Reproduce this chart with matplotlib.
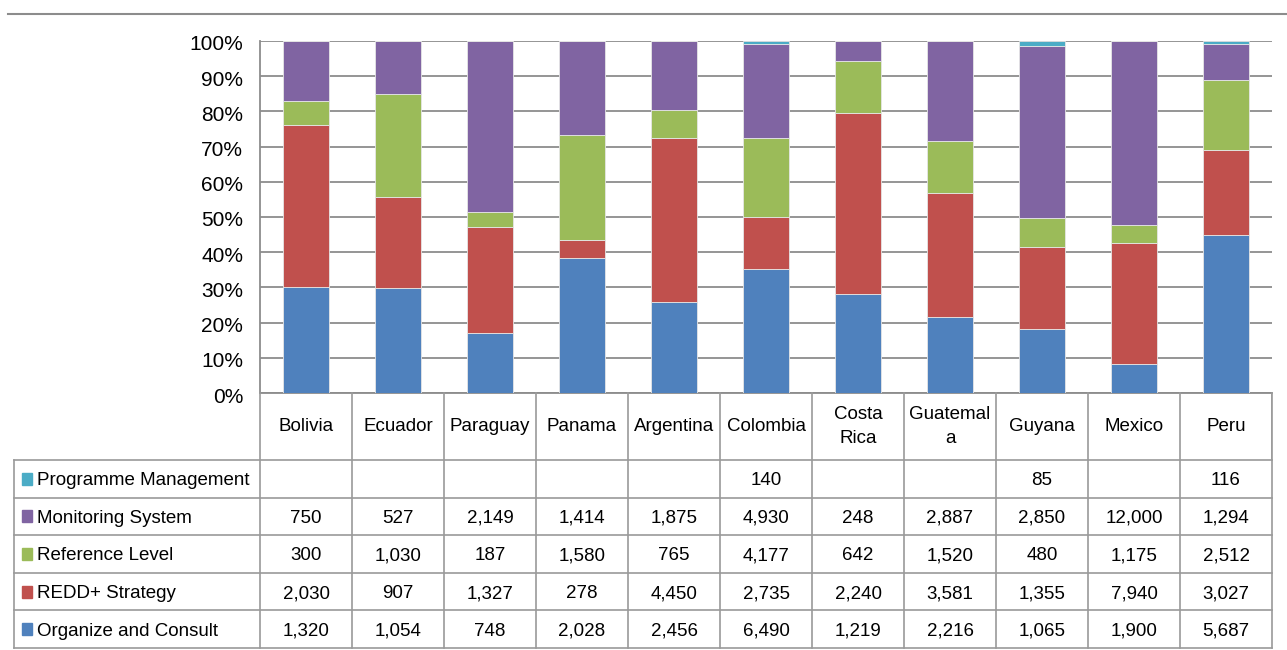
import numpy as np
import matplotlib.pyplot as plt
import matplotlib.transforms as mtransforms
from matplotlib.lines import Line2D
from matplotlib.patches import Rectangle

plt.rcParams['font.family'] = ['Liberation Sans', 'DejaVu Sans']

countries = ['Bolivia', 'Ecuador', 'Paraguay', 'Panama', 'Argentina', 'Colombia',
             'Costa\nRica', 'Guatemal\na', 'Guyana', 'Mexico', 'Peru']
series_names = ['Organize and Consult', 'REDD+ Strategy', 'Reference Level',
                'Monitoring System', 'Programme Management']
organize = [1320, 1054, 748, 2028, 2456, 6490, 1219, 2216, 1065, 1900, 5687]
strategy = [2030, 907, 1327, 278, 4450, 2735, 2240, 3581, 1355, 7940, 3027]
ref_level = [300, 1030, 187, 1580, 765, 4177, 642, 1520, 480, 1175, 2512]
monitoring = [750, 527, 2149, 1414, 1875, 4930, 248, 2887, 2850, 12000, 1294]
management = [0, 0, 0, 0, 0, 140, 0, 0, 85, 0, 116]
colors = ['#4F81BD', '#C0504D', '#9BBB59', '#8064A2', '#4BACC6']

W, H = 1287, 650
fig = plt.figure(figsize=(W / 100, H / 100), dpi=100)

# chart frame line at top
fig.add_artist(Line2D([8 / W, 1.0], [1 - 14 / H, 1 - 14 / H], color='#8c8c8c', lw=1.5))

left, right, top, bottom = 260, 1272, 41, 393
ax = fig.add_axes([left / W, 1 - bottom / H, (right - left) / W, (bottom - top) / H])

data = np.array([organize, strategy, ref_level, monitoring, management], dtype=float)
pct = data / data.sum(axis=0) * 100
x = np.arange(len(countries))
base = np.zeros(len(countries))
for i in range(len(series_names)):
    ax.bar(x, pct[i], 0.5, bottom=base, color=colors[i], edgecolor='#e6e6e6', lw=0.6, zorder=3)
    base += pct[i]

ax.set_xlim(-0.5, len(countries) - 0.5)
ax.set_ylim(0, 100)
ax.set_yticks(np.arange(0, 101, 10))
ax.set_yticklabels(['%d%%' % v for v in range(0, 101, 10)], fontsize=15)
ax.set_xticks([])
ax.tick_params(axis='y', length=0, pad=12)
ax.grid(axis='y', color='#8c8c8c', lw=1.3, zorder=0)
ax.set_axisbelow(True)
for s in ['top', 'right']:
    ax.spines[s].set_visible(False)
for s in ['left', 'bottom']:
    ax.spines[s].set_color('#8c8c8c')
    ax.spines[s].set_linewidth(1.3)
# tick labels sit a touch below their gridlines
offset = mtransforms.ScaledTranslation(0, -2 / 100, fig.dpi_scale_trans)
for t in ax.get_yticklabels():
    t.set_transform(t.get_transform() + offset)

# data table below the plot
tleft, tbottom = 14, 648
col_w = (right - left) / len(countries)
legend_w = (left - tleft) / col_w
tax = fig.add_axes([tleft / W, 1 - tbottom / H, (right - tleft) / W, (tbottom - bottom) / H])
tax.set_xlim(-0.5 - legend_w, len(countries) - 0.5)
header_h = 67
row_h = (tbottom - bottom - header_h) / len(series_names)
tax.set_ylim(tbottom - bottom, 0)
tax.axis('off')

lc = '#9a9a9a'
fs = 13.5
xl = -0.5 - legend_w
xr = len(countries) - 0.5
# header cells
for j, name in enumerate(countries):
    tax.text(j, header_h / 2, name, ha='center', va='center', fontsize=fs, linespacing=1.5)
for j in range(len(countries) + 1):
    tax.plot([j - 0.5, j - 0.5], [0, tbottom - bottom], color=lc, lw=1.2, clip_on=False)
tax.plot([xr, xr], [0, header_h], color=lc, lw=1.2)
tax.plot([xl, xl], [header_h, tbottom - bottom], color=lc, lw=1.2, clip_on=False)
for r in range(len(series_names) + 1):
    y = header_h + r * row_h
    tax.plot([xl, xr], [y, y], color=lc, lw=1.2, clip_on=False)

rows = list(range(len(series_names)))[::-1]
for r, i in enumerate(rows):
    yc = header_h + (r + 0.5) * row_h
    tax.add_patch(Rectangle((xl + 0.085, yc - 6), 0.11, 12, color=colors[i], clip_on=False))
    tax.text(xl + 0.25, yc + 6.5, series_names[i], ha='left', va='baseline', fontsize=fs)
    for j in range(len(countries)):
        v = data[i, j]
        if v > 0:
            tax.text(j, yc + 6.5, '{:,.0f}'.format(v), ha='center', va='baseline', fontsize=fs)

fig.savefig('out.png', dpi=100)
